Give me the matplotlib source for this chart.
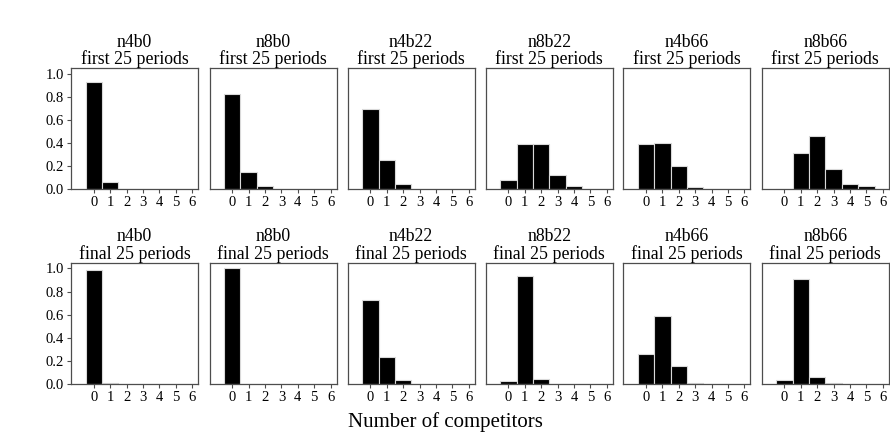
import matplotlib
matplotlib.use("Agg")
import matplotlib.pyplot as plt
import numpy as np

plt.rcParams['font.family'] = ['Liberation Serif', 'DejaVu Serif']

competitors = [0, 1, 2, 3, 4, 5, 6]
treatments = ["n4b0", "n8b0", "n4b22", "n8b22", "n4b66", "n8b66"]
periods = ["first 25 periods", "final 25 periods"]

first_vals = {
    "n4b0":  [0.935, 0.065, 0.0, 0.0, 0.0, 0.0, 0.0],
    "n8b0":  [0.825, 0.150, 0.025, 0.0, 0.0, 0.0, 0.0],
    "n4b22": [0.700, 0.255, 0.045, 0.0, 0.0, 0.0, 0.0],
    "n8b22": [0.075, 0.388, 0.394, 0.120, 0.028, 0.0, 0.0],
    "n4b66": [0.391, 0.400, 0.197, 0.018, 0.0, 0.0, 0.0],
    "n8b66": [0.0, 0.316, 0.464, 0.171, 0.041, 0.022, 0.0],
}
final_vals = {
    "n4b0":  [0.990, 0.012, 0.0, 0.0, 0.0, 0.0, 0.0],
    "n8b0":  [1.0, 0.0, 0.0, 0.0, 0.0, 0.0, 0.0],
    "n4b22": [0.730, 0.237, 0.038, 0.0, 0.0, 0.0, 0.0],
    "n8b22": [0.029, 0.937, 0.043, 0.0, 0.0, 0.0, 0.0],
    "n4b66": [0.257, 0.592, 0.153, 0.012, 0.0, 0.0, 0.0],
    "n8b66": [0.035, 0.905, 0.064, 0.008, 0.0, 0.0, 0.0],
}
yticks = [0.0, 0.2, 0.4, 0.6, 0.8, 1.0]
ytick_labels = ["0.0", "0.2", "0.4", "0.6", "0.8", "1.0"]

W, H = 890, 448
fig = plt.figure(figsize=(W / 100, H / 100), dpi=100)

lefts_px = [71, 209.5, 347.7, 485.7, 623.3, 761.7]
panel_w = 127
rows_px = [(68.3, 189.0), (262.7, 384.0)]
spine_col = "#4d4d4d"

for r, (period, data) in enumerate(zip(periods, [first_vals, final_vals])):
    top, bot = rows_px[r]
    for c, tr in enumerate(treatments):
        ax = fig.add_axes([lefts_px[c] / W, 1 - bot / H, panel_w / W, (bot - top) / H])
        ax.bar(competitors, data[tr], width=1.0, color="black",
               edgecolor="#d9d9d9", linewidth=0.8)
        ax.set_xlim(-1.39, 6.36)
        ax.set_ylim(0, 1.05)
        ax.set_xticks(competitors)
        ax.set_xticklabels([str(v) for v in competitors], fontsize=10.5)
        ax.set_yticks(yticks)
        if c == 0:
            ax.set_yticklabels(ytick_labels, fontsize=10.5)
        else:
            ax.tick_params(axis='y', left=False, labelleft=False)
        ax.tick_params(axis='both', length=3, width=0.8, color=spine_col, pad=2)
        for s in ax.spines.values():
            s.set_color(spine_col)
            s.set_linewidth(0.9)
        ax.set_title(f"{tr}\n{period}", fontsize=12.8, pad=1.5, linespacing=0.98)

fig.text(0.5, 1 - 422 / H, "Number of competitors", ha="center", va="center", fontsize=15)

fig.savefig("out.png", dpi=100)
